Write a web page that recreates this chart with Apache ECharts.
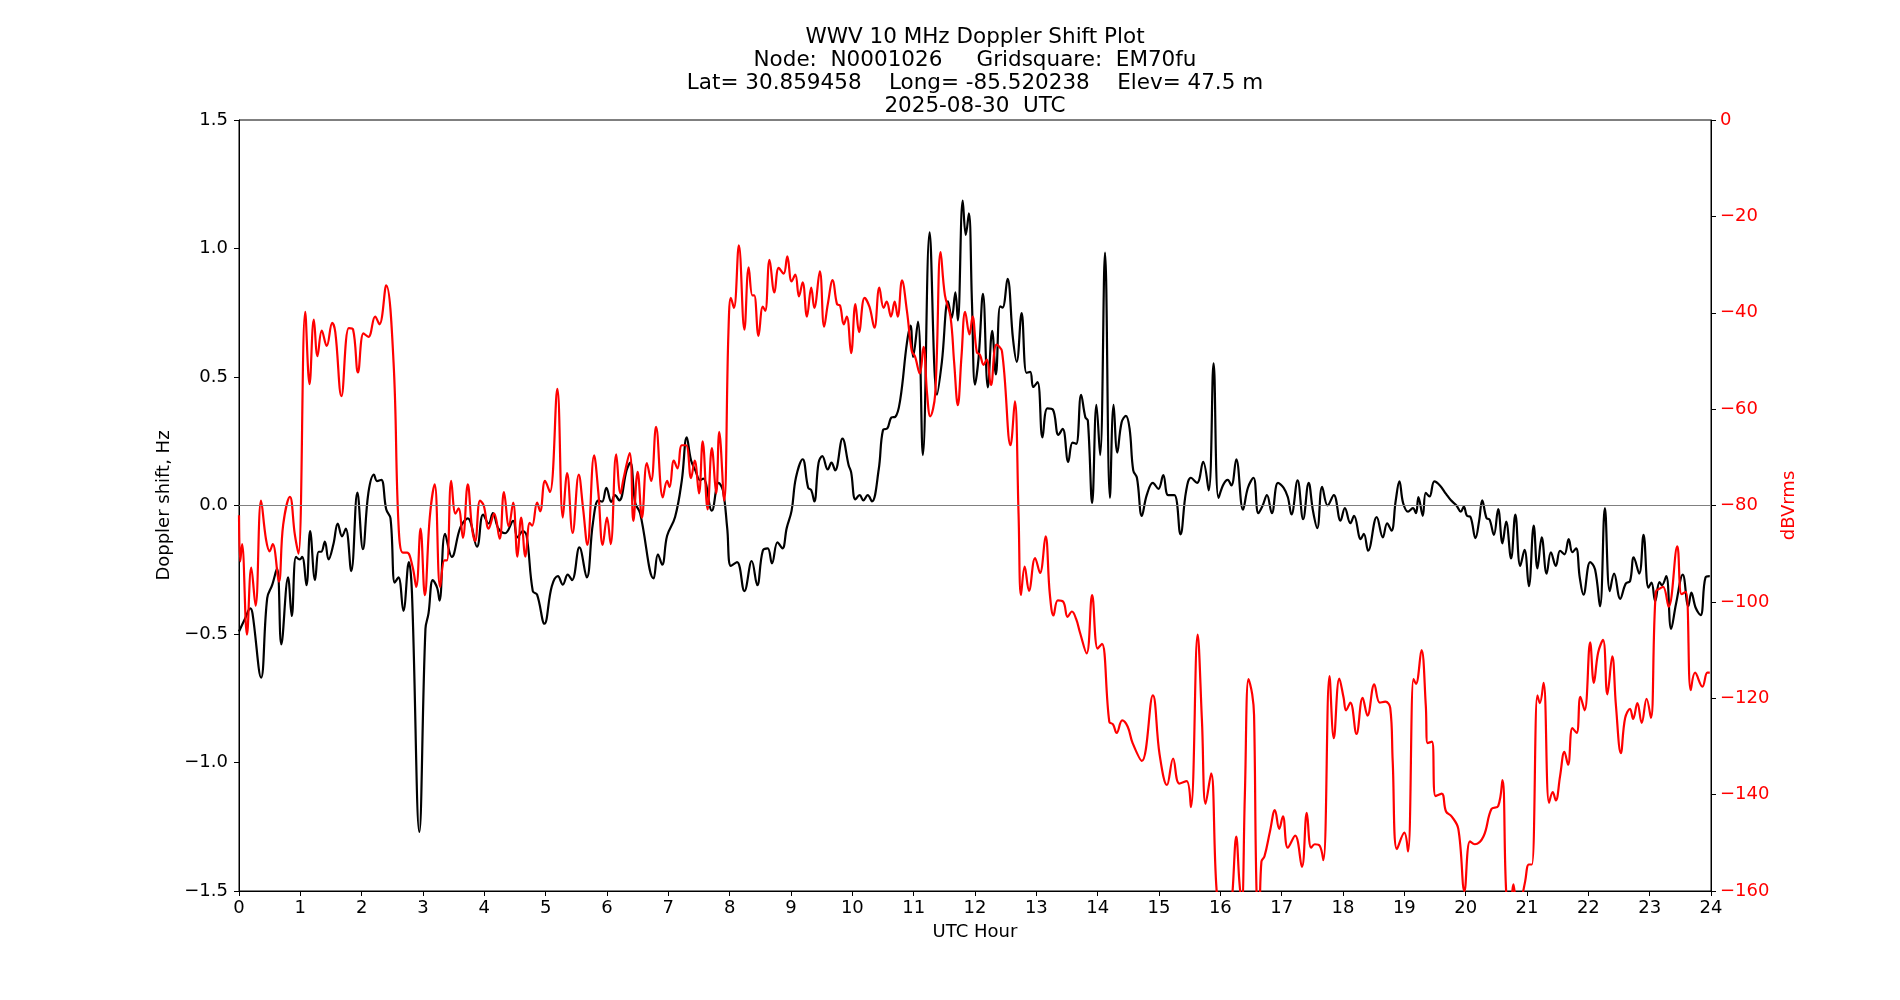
<!DOCTYPE html>
<html>
<head>
<meta charset="utf-8">
<title>WWV 10 MHz Doppler Shift Plot</title>
<script src="https://cdn.jsdelivr.net/npm/echarts@6/dist/echarts.min.js"></script>
<style>
  html, body { margin: 0; padding: 0; background: #fff; }
  #chart { width: 1900px; height: 1000px; }
</style>
</head>
<body>
<div id="chart"></div>
<script>
// title lines
var titleLines = [
    'WWV 10 MHz Doppler Shift Plot',
    'Node:  N0001026     Gridsquare:  EM70fu',
    'Lat= 30.859458    Long= -85.520238    Elev= 47.5 m',
    '2025-08-30  UTC'
];

// Doppler shift (Hz) vs UTC hour
var dopplerHour = [0.00,0.10,0.185,0.22,0.36,0.46,0.54,0.62,0.69,0.80,0.86,0.93,0.99,1.03,1.10,1.16,1.24,1.30,1.34,1.40,1.46,1.54,1.61,1.68,1.74,1.83,1.93,2.02,2.11,2.20,2.25,2.32,2.40,2.47,2.54,2.60,2.68,2.77,2.82,2.94,3.04,3.09,3.16,3.23,3.27,3.36,3.47,3.61,3.73,3.88,3.98,4.07,4.14,4.23,4.34,4.47,4.54,4.63,4.69,4.79,4.86,4.98,5.10,5.20,5.28,5.36,5.43,5.55,5.67,5.77,5.86,5.92,5.99,6.07,6.13,6.20,6.32,6.38,6.46,6.54,6.76,6.83,6.90,6.98,7.11,7.22,7.30,7.37,7.44,7.52,7.57,7.71,7.82,7.89,7.96,8.02,8.12,8.24,8.36,8.45,8.54,8.62,8.69,8.78,8.86,8.93,9.01,9.08,9.19,9.28,9.33,9.38,9.45,9.51,9.60,9.66,9.72,9.84,9.94,9.98,10.05,10.12,10.18,10.25,10.32,10.43,10.50,10.57,10.64,10.70,10.78,10.89,10.95,10.99,11.07,11.15,11.26,11.38,11.46,11.56,11.62,11.68,11.72,11.80,11.85,11.90,11.95,12.00,12.06,12.13,12.21,12.28,12.34,12.41,12.45,12.53,12.62,12.68,12.76,12.84,12.90,12.95,13.02,13.10,13.18,13.27,13.36,13.43,13.52,13.59,13.65,13.73,13.80,13.84,13.91,13.98,14.04,14.12,14.20,14.26,14.32,14.39,14.46,14.52,14.58,14.64,14.72,14.80,14.90,14.99,15.07,15.15,15.25,15.35,15.44,15.52,15.62,15.72,15.81,15.89,15.97,16.05,16.12,16.18,16.26,16.37,16.45,16.54,16.62,16.69,16.76,16.84,16.94,17.03,17.10,17.16,17.26,17.35,17.44,17.51,17.58,17.66,17.75,17.85,17.96,18.03,18.12,18.18,18.29,18.34,18.41,18.55,18.65,18.72,18.79,18.86,18.92,18.98,19.06,19.14,19.19,19.23,19.30,19.35,19.41,19.49,19.58,19.68,19.76,19.85,19.92,19.97,20.02,20.08,20.16,20.22,20.27,20.34,20.39,20.46,20.53,20.60,20.66,20.74,20.81,20.89,20.96,21.03,21.11,21.17,21.24,21.32,21.39,21.47,21.54,21.61,21.68,21.74,21.80,21.86,21.92,22.03,22.11,22.19,22.27,22.35,22.42,22.52,22.61,22.68,22.74,22.83,22.90,22.98,23.03,23.09,23.16,23.20,23.27,23.35,23.43,23.54,23.63,23.68,23.75,23.83,23.91,23.98];
var dopplerHz = [-0.49,-0.44,-0.40,-0.42,-0.67,-0.36,-0.31,-0.245,-0.54,-0.28,-0.43,-0.20,-0.21,-0.20,-0.31,-0.10,-0.29,-0.18,-0.18,-0.14,-0.21,-0.15,-0.07,-0.12,-0.09,-0.255,0.05,-0.17,0.05,0.12,0.095,0.10,-0.015,-0.05,-0.30,-0.28,-0.41,-0.22,-0.34,-1.27,-0.48,-0.42,-0.29,-0.32,-0.37,-0.11,-0.20,-0.085,-0.05,-0.16,-0.035,-0.07,-0.03,-0.09,-0.108,-0.06,-0.124,-0.10,-0.118,-0.333,-0.347,-0.46,-0.314,-0.275,-0.308,-0.269,-0.29,-0.163,-0.28,-0.069,0.02,0.015,0.069,0.014,0.04,0.02,0.137,0.167,0.01,-0.03,-0.284,-0.19,-0.23,-0.118,-0.045,0.098,0.265,0.176,0.137,0.098,0.105,-0.02,0.088,0.059,-0.088,-0.235,-0.22,-0.333,-0.216,-0.31,-0.176,-0.167,-0.225,-0.143,-0.167,-0.088,-0.02,0.108,0.18,0.069,0.06,0.016,0.167,0.192,0.14,0.167,0.137,0.26,0.157,0.13,0.024,0.04,0.02,0.04,0.016,0.14,0.294,0.30,0.343,0.345,0.41,0.633,0.70,0.578,0.716,0.196,1.063,0.431,0.559,0.794,0.73,0.829,0.72,1.186,1.053,1.137,0.794,0.47,0.578,0.824,0.46,0.68,0.51,0.775,0.77,0.882,0.647,0.559,0.749,0.516,0.52,0.461,0.48,0.265,0.378,0.373,0.275,0.298,0.17,0.245,0.24,0.431,0.343,0.33,0.01,0.392,0.196,0.984,0.03,0.392,0.206,0.323,0.349,0.30,0.137,0.108,-0.04,0.04,0.088,0.065,0.118,0.04,0.04,-0.112,0.053,0.108,0.088,0.17,0.059,0.553,0.03,0.082,0.10,0.078,0.18,-0.016,0.069,0.108,-0.03,0.0,0.04,-0.03,0.088,0.07,0.033,-0.035,0.098,-0.053,0.088,-0.02,-0.088,0.073,0.0,0.04,-0.059,-0.01,-0.069,-0.04,-0.131,-0.11,-0.176,-0.045,-0.124,-0.069,-0.098,0.02,0.094,0.01,-0.024,-0.01,-0.03,0.033,-0.04,0.049,0.035,0.094,0.078,0.045,0.02,0.0,-0.024,-0.004,-0.04,-0.045,-0.127,-0.059,0.02,-0.049,-0.055,-0.114,-0.014,-0.147,-0.063,-0.206,-0.035,-0.235,-0.173,-0.314,-0.078,-0.245,-0.124,-0.265,-0.182,-0.235,-0.176,-0.19,-0.131,-0.182,-0.167,-0.28,-0.347,-0.22,-0.249,-0.392,-0.01,-0.333,-0.265,-0.363,-0.304,-0.294,-0.202,-0.265,-0.114,-0.32,-0.30,-0.373,-0.298,-0.31,-0.275,-0.48,-0.382,-0.269,-0.392,-0.339,-0.398,-0.427,-0.28,-0.275];

// signal level (dBVrms) vs UTC hour
var powerHour = [0.00,0.02,0.05,0.13,0.20,0.27,0.36,0.44,0.50,0.55,0.65,0.72,0.83,0.91,0.97,1.08,1.15,1.22,1.28,1.35,1.43,1.52,1.57,1.67,1.79,1.86,1.94,2.03,2.11,2.22,2.29,2.40,2.52,2.60,2.67,2.74,2.83,2.89,2.96,3.03,3.11,3.19,3.28,3.35,3.39,3.46,3.53,3.58,3.65,3.73,3.80,3.85,3.93,3.99,4.07,4.16,4.25,4.32,4.40,4.47,4.54,4.60,4.67,4.74,4.78,4.86,4.91,4.99,5.07,5.19,5.28,5.35,5.44,5.54,5.61,5.68,5.79,5.86,5.93,6.00,6.06,6.15,6.22,6.27,6.37,6.43,6.50,6.57,6.65,6.72,6.80,6.91,6.98,7.02,7.09,7.15,7.22,7.29,7.37,7.43,7.50,7.56,7.64,7.71,7.78,7.83,7.91,7.98,8.02,8.07,8.15,8.24,8.31,8.37,8.40,8.47,8.54,8.58,8.65,8.73,8.80,8.88,8.94,9.01,9.07,9.13,9.19,9.26,9.33,9.38,9.47,9.54,9.60,9.68,9.75,9.80,9.86,9.91,9.98,10.05,10.11,10.20,10.28,10.36,10.44,10.51,10.56,10.63,10.69,10.74,10.81,10.89,10.97,11.02,11.10,11.16,11.22,11.27,11.35,11.44,11.51,11.60,11.66,11.72,11.78,11.84,11.91,11.96,12.03,12.08,12.14,12.19,12.26,12.35,12.44,12.58,12.65,12.71,12.75,12.81,12.88,12.98,13.06,13.15,13.22,13.28,13.35,13.44,13.51,13.58,13.65,13.71,13.82,13.91,14.00,14.07,14.19,14.25,14.31,14.40,14.49,14.57,14.72,14.90,15.01,15.13,15.23,15.33,15.45,15.52,15.63,15.70,15.76,15.85,15.94,16.05,16.15,16.20,16.26,16.31,16.35,16.40,16.46,16.52,16.55,16.59,16.63,16.67,16.72,16.81,16.89,16.96,17.02,17.10,17.22,17.33,17.41,17.48,17.54,17.62,17.68,17.78,17.85,17.94,18.01,18.05,18.12,18.22,18.32,18.40,18.51,18.60,18.69,18.77,18.81,18.88,19.00,19.06,19.15,19.19,19.28,19.35,19.38,19.45,19.51,19.61,19.68,19.77,19.88,19.98,20.07,20.15,20.29,20.42,20.53,20.60,20.66,20.72,20.78,20.85,20.91,20.97,21.03,21.08,21.17,21.21,21.27,21.36,21.42,21.47,21.54,21.61,21.67,21.74,21.81,21.87,21.94,22.03,22.09,22.16,22.24,22.31,22.39,22.45,22.53,22.60,22.68,22.73,22.80,22.87,22.95,23.02,23.10,23.17,23.22,23.31,23.45,23.52,23.59,23.67,23.74,23.86,23.94,23.98];
var powerDb = [-82,-91.6,-88,-106.8,-92.9,-100.8,-79,-87,-89.5,-88,-95.8,-84,-78.2,-86,-90,-39.8,-54.8,-41.4,-49,-43.7,-46.9,-42.1,-44,-57.3,-43.2,-43.5,-52.4,-44.3,-45,-40.8,-42.4,-34.3,-50.3,-83.8,-89.8,-89.8,-92.7,-96.9,-84.8,-98.6,-82.5,-75.6,-96.9,-91.4,-91.4,-74.9,-81.7,-80.6,-86.7,-75.6,-84.8,-87.4,-79,-80,-84.8,-81.7,-86.9,-77.2,-84.3,-79.4,-90.6,-82.5,-90.6,-83.6,-84.2,-79.4,-81.2,-74.9,-77.2,-55.8,-82.5,-73.3,-85.7,-73.6,-80.6,-88.2,-69.6,-77.5,-88.2,-82.5,-88,-69.4,-77.5,-74.4,-69.1,-83.2,-73,-82.5,-71.2,-74.9,-63.7,-78.3,-74.9,-76.2,-70.7,-72.3,-67.5,-67.5,-74.3,-70.7,-77.5,-66.7,-80.8,-68.1,-77.5,-64.7,-79,-44,-36.9,-39,-26,-43.5,-30.6,-36.4,-36.4,-44.8,-38.7,-39.6,-29,-35.8,-30.7,-31.9,-28.3,-33.5,-32.1,-36.6,-33.7,-40.8,-34.8,-39,-31.4,-42.9,-38.2,-33.2,-38.2,-38.5,-42.4,-40.8,-48.4,-38.2,-44,-36.9,-38.8,-43.1,-34.8,-39,-37.7,-40.8,-37.7,-40.8,-33.3,-39.6,-48,-49,-52.6,-47.1,-57,-61.5,-57,-27.4,-36.4,-40.8,-50.3,-59.2,-49,-39.8,-44.5,-40.8,-48.2,-48.7,-50.8,-49.7,-55,-46.6,-48,-67.5,-58.4,-81.7,-98.6,-92.7,-97.7,-90.9,-94,-86.4,-98.4,-102.8,-99.7,-100,-103.1,-102,-103.6,-106.3,-110.7,-98.6,-109.7,-108.7,-124.9,-125.4,-127.2,-124.6,-125.9,-129.3,-133,-119.4,-131.7,-138,-132.5,-137.7,-137.2,-142.6,-106.8,-124.6,-141.9,-135.6,-160,-170,-168,-160,-148.7,-158,-163,-140,-116,-119.2,-123.5,-160,-166,-153.9,-152.8,-147.6,-143.2,-147.1,-144.5,-151,-148.5,-155,-143.8,-151,-150.3,-150.6,-153.6,-115.4,-128.3,-115.9,-119.9,-122.5,-120.9,-127.4,-119.9,-123.6,-117.1,-120.9,-120.7,-122,-133,-151.3,-147.9,-151.8,-116,-117,-110,-121.5,-129.3,-129,-140.3,-139.8,-143.5,-144.5,-147.1,-160,-149.7,-150.3,-148.7,-143,-142.4,-137,-160,-166,-158.6,-166,-162,-158,-154.5,-154.5,-119.4,-121,-116.8,-141.7,-139.5,-141.2,-136.1,-131.1,-133.8,-126.2,-127.2,-119.7,-122.5,-108.4,-116.8,-110.5,-107.9,-119.2,-111.3,-121.5,-131.4,-124.1,-122.2,-124.3,-121,-125.1,-120.1,-124.1,-97.9,-97.2,-96.9,-101,-88.5,-98.4,-97.9,-118.3,-114.7,-117.6,-114.7,-114.7];

var FONT = 'DejaVu Sans';

function pairs(xs, ys) {
    return xs.map(function (x, i) { return [x, ys[i]]; });
}
function minusSign(s) {
    return String(s).replace('-', '\u2212');
}

var myChart = echarts.init(document.getElementById('chart'));
myChart.setOption({
    backgroundColor: '#fff',
    animation: false,
    title: {
        text: titleLines.join('\n'),
        left: 975,
        top: 26,
        padding: 0,
        textAlign: 'center',
        textStyle: {
            fontFamily: FONT,
            fontSize: 21.5,
            lineHeight: 23,
            fontWeight: 'normal',
            color: '#000'
        }
    },
    grid: {
        left: 239,
        right: 189,
        top: 120,
        bottom: 109,
        show: true,
        borderColor: '#000',
        borderWidth: 1,
        containLabel: false
    },
    xAxis: {
        type: 'value',
        min: 0,
        max: 24,
        interval: 1,
        name: 'UTC Hour',
        nameLocation: 'middle',
        nameGap: 32,
        nameTextStyle: { fontFamily: FONT, fontSize: 18, color: '#000' },
        axisLine: { show: true, onZero: false, lineStyle: { color: '#000', width: 1 } },
        axisTick: { show: true, length: 5, lineStyle: { color: '#000' } },
        axisLabel: { fontFamily: FONT, fontSize: 18, color: '#000', margin: 8 },
        splitLine: { show: false }
    },
    yAxis: [{
        type: 'value',
        min: -1.5,
        max: 1.5,
        interval: 0.5,
        name: 'Doppler shift, Hz',
        nameLocation: 'middle',
        nameGap: 62,
        nameTextStyle: { fontFamily: FONT, fontSize: 18, color: '#000' },
        axisLine: { show: true, onZero: false, lineStyle: { color: '#000', width: 1 } },
        axisTick: { show: true, length: 5, lineStyle: { color: '#000' } },
        axisLabel: {
            fontFamily: FONT, fontSize: 18, color: '#000', margin: 11,
            formatter: function (v) { return minusSign(v.toFixed(1)); }
        },
        splitLine: { show: false }
    }, {
        type: 'value',
        position: 'right',
        min: -160,
        max: 0,
        interval: 20,
        name: 'dBVrms',
        nameLocation: 'middle',
        nameGap: 63,
        nameRotate: 90,
        nameTextStyle: { fontFamily: FONT, fontSize: 18, color: '#ff0000' },
        axisLine: { show: true, onZero: false, lineStyle: { color: '#000', width: 1 } },
        axisTick: { show: true, length: 5, lineStyle: { color: '#000' } },
        axisLabel: {
            fontFamily: FONT, fontSize: 18, color: '#ff0000', margin: 9,
            formatter: function (v) { return minusSign(v); }
        },
        splitLine: { show: false }
    }],
    series: [{
        name: 'Doppler',
        type: 'line',
        xAxisIndex: 0,
        yAxisIndex: 0,
        data: pairs(dopplerHour, dopplerHz),
        smooth: 0.4,
        showSymbol: false,
        clip: true,
        lineStyle: { color: '#000', width: 2.2 },
        markLine: {
            silent: true,
            symbol: 'none',
            label: { show: false },
            lineStyle: { color: '#808080', width: 1, type: 'solid' },
            data: [{ yAxis: 0 }]
        }
    }, {
        name: 'Power',
        type: 'line',
        xAxisIndex: 0,
        yAxisIndex: 1,
        data: pairs(powerHour, powerDb),
        smooth: 0.4,
        showSymbol: false,
        clip: true,
        lineStyle: { color: '#ff0000', width: 2.2 }
    }]
});
</script>
</body>
</html>
